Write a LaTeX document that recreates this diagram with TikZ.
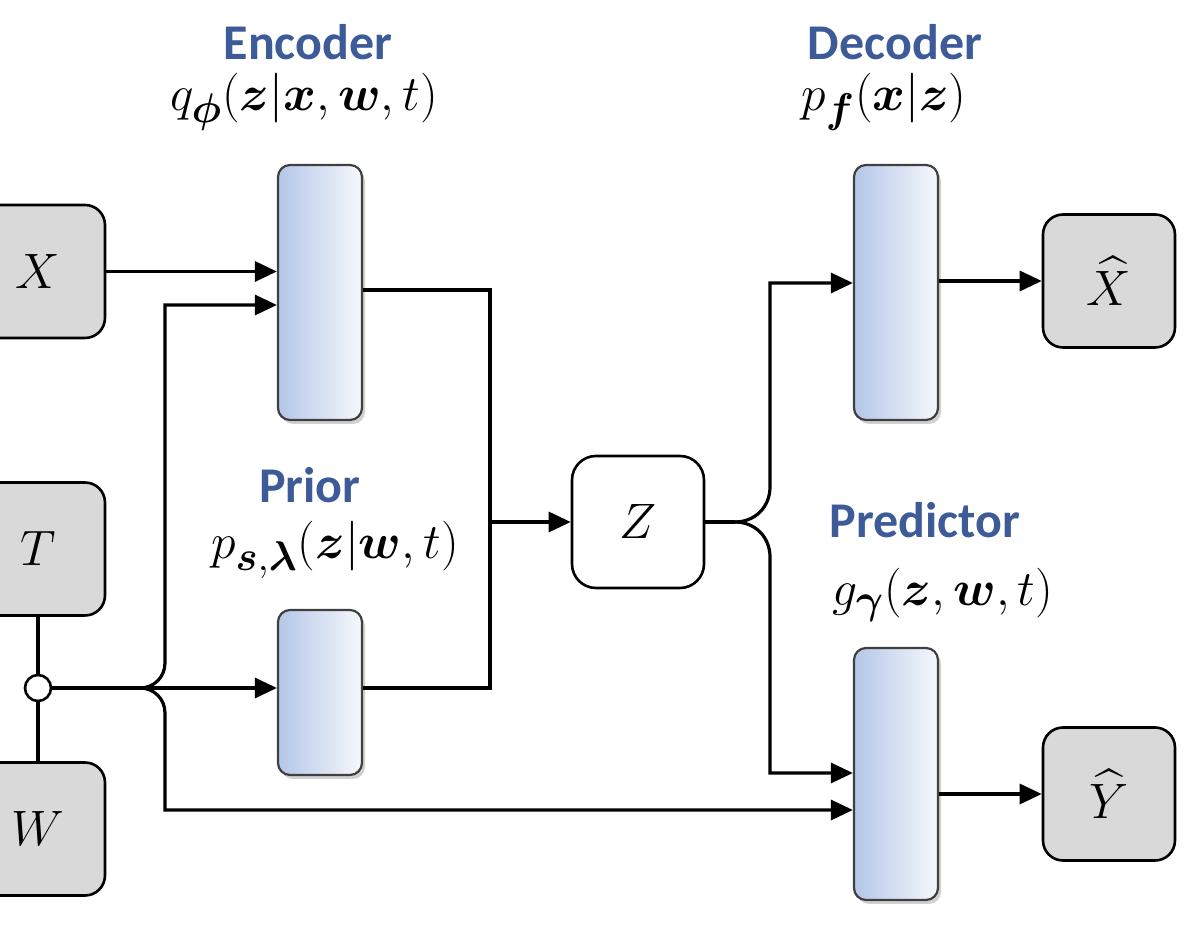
\documentclass[tikz,border=0pt]{standalone}
\usepackage{amsmath,bm}
\usepackage{fontspec}
\newfontfamily\labfont{Carlito}
\usetikzlibrary{arrows.meta,shadows}
\definecolor{labblue}{RGB}{61,90,153}
\definecolor{boxgray}{RGB}{217,217,217}
\definecolor{barblue}{RGB}{180,199,231}
\definecolor{barwhite}{RGB}{246,248,252}
\begin{document}
\begin{tikzpicture}[x=0.5pt,y=-0.5pt,
  conn/.style={line width=1.6pt},
  arr/.style={conn,-{Triangle[length=11pt,width=10pt]}},
  io/.style={draw,line width=1.3pt,fill=boxgray,rounded corners=10pt,minimum width=67pt,minimum height=66.5pt,inner sep=0pt,font=\fontsize{32}{38}\selectfont},
  zbox/.style={draw,line width=1.3pt,fill=white,rounded corners=12pt,minimum width=66pt,minimum height=66pt,inner sep=0pt,font=\fontsize{32}{38}\selectfont},
  bar/.style={draw=black!75,line width=1.1pt,rounded corners=6pt,left color=barblue,right color=barwhite,minimum width=42pt,inner sep=0pt,
    drop shadow={shadow xshift=1.5pt,shadow yshift=-2pt,fill=black,opacity=0.18}},
  junc/.style={circle,draw,line width=1.3pt,fill=white,minimum size=13pt,inner sep=0pt},
  ttl/.style={inner sep=0pt,font=\labfont\bfseries\fontsize{25}{30}\selectfont,text=labblue},
  fn/.style={inner sep=0pt,font=\fontsize{31}{36}\selectfont}]
\clip (0,0) rectangle (1196,929);
% boxes
\node[io] (X) at (38,271.5) {$X$};
\node[io] (T) at (38,549) {$T$};
\node[io] (W) at (38,829) {$W$};
\node[junc] (J) at (38,688) {};
\node[bar,minimum height=127.5pt] (enc) at (320,292.5) {};
\node[bar,minimum height=82.5pt] (pri) at (320,692.5) {};
\node[bar,minimum height=127.5pt] (dec) at (896,292.5) {};
\node[bar,minimum height=126pt] (pred) at (896,774) {};
\node[zbox] (Z) at (638,522) {$Z$};
\node[io,minimum width=66pt] (Xh) at (1109,281) {$\widehat{X}$};
\node[io,minimum width=66pt] (Yh) at (1109,794) {$\widehat{Y}$};
% labels
\node[ttl] (encl) at (308,42) {Encoder};
\node[fn] (encf) at (304,102) {$q_{\boldsymbol{\phi}}(\boldsymbol{z}|\boldsymbol{x},\boldsymbol{w},t)$};
\node[ttl] (decl) at (895,42) {Decoder};
\node[fn] (decf) at (884,102) {$p_{\boldsymbol{f}}(\boldsymbol{x}|\boldsymbol{z})$};
\node[ttl] (pril) at (310,485) {Prior};
\node[fn] (prif) at (335,550) {$p_{\boldsymbol{s},\boldsymbol{\lambda}}(\boldsymbol{z}|\boldsymbol{w},t)$};
\node[ttl] (predl) at (925,520) {Predictor};
\node[fn] (predf) at (943,595) {$g_{\boldsymbol{\gamma}}(\boldsymbol{z},\boldsymbol{w},t)$};
% routing coordinates
\coordinate (b1) at (140,688);
\coordinate (m) at (490,522);
\coordinate (b2) at (735,522);
\coordinate (eo) at (490,290);
\coordinate (po) at (490,688);
% connectors
\draw[arr] (X.east) -- (X.east -| enc.west);
\draw[conn] (T.south) -- (J.north);
\draw[conn] (J.south) -- (W.north);
\draw[arr] (J.east) -- (J.east -| pri.west);
\draw[arr] (b1) .. controls (154,688) and (165,677) .. (165,663) -- (165,305) -- (enc.west |- 0,305);
\draw[arr] (b1) .. controls (154,688) and (165,699) .. (165,713) -- (165,810) -- (pred.west |- 0,810);
\draw[conn] (enc.east |- eo) -- (eo) -- (po) -- (pri.east |- po);
\draw[arr] (m) -- (Z.west);
\draw[conn] (Z.east) -- (b2);
\draw[arr] (b2) .. controls (755,522) and (770,507) .. (770,487) -- (770,283) -- (dec.west |- 0,283);
\draw[arr] (b2) .. controls (755,522) and (770,537) .. (770,557) -- (770,773) -- (pred.west |- 0,773);
\draw[arr] (dec.east |- Xh.west) -- (Xh.west);
\draw[arr] (pred.east |- Yh.west) -- (Yh.west);
\end{tikzpicture}
\end{document}
